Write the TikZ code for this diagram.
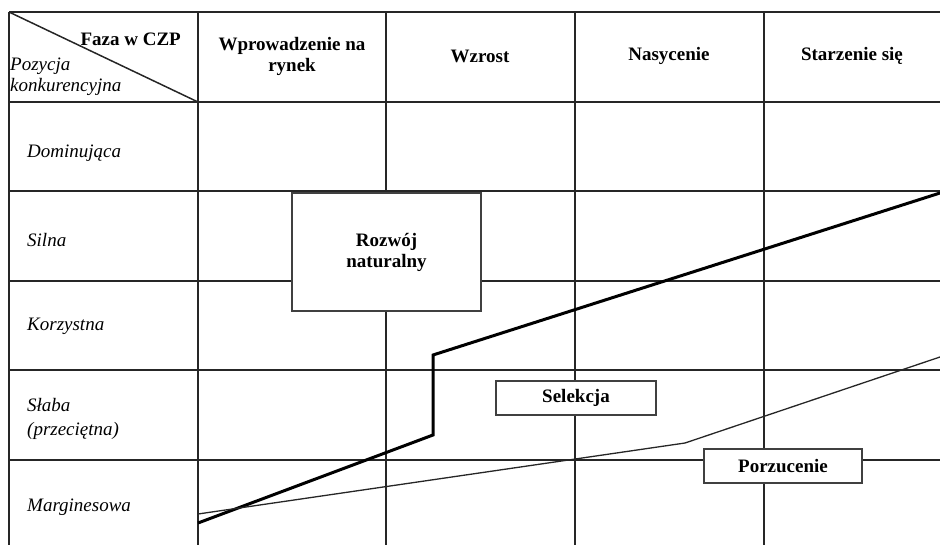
\documentclass[tikz,border=0pt]{standalone}
\usepackage{fontspec}
\setmainfont{Liberation Serif}
\begin{document}
\begin{tikzpicture}[x=1pt,y=-1pt,
  gridline/.style={line width=1.5pt, draw=black!85},
  colhead/.style={font=\fontsize{19}{21}\selectfont\bfseries, align=center, inner sep=0pt},
  rowhead/.style={font=\fontsize{19}{24}\selectfont\itshape, anchor=west, align=left, inner sep=0pt},
  cornerhead/.style={font=\fontsize{19}{21}\selectfont\itshape, anchor=west, align=left, inner sep=0pt},
  strategy/.style={draw=black!75, line width=1.2pt, fill=white, inner sep=0pt,
    font=\fontsize{19}{21}\selectfont\bfseries, align=center},
  leader/.style={line width=3pt, line join=miter, draw=black},
  follower/.style={line width=1.3pt, draw=black!85}]
\useasboundingbox (0,0) rectangle (940,544);

% table grid, running off the right and bottom edges
\begin{scope}
  \clip (0,0) rectangle (940,544);
  \foreach \y in {12,102,191,281,370,460}
    \draw[gridline] (9,\y) -- (960,\y);
  \foreach \x in {9,198,386,575,764}
    \draw[gridline] (\x,12) -- (\x,560);
\end{scope}

% corner cell with the diagonal
\coordinate (cornerTL) at (9,12);
\coordinate (cornerBR) at (198,102);
\draw[gridline] (cornerTL) -- (cornerBR);
\node[colhead, anchor=base east] (phase) at (181,45) {Faza w CZP};
\node[cornerhead] (position) at (10,77) {Pozycja\\konkurencyjna};

% life-cycle phases
\node[colhead] (intro) at (292,56) {Wprowadzenie na\\rynek};
\node[colhead] (growth) at (480,56) {Wzrost};
\node[colhead] (mature) at (669,56) {Nasycenie};
\node[colhead] (decline) at (852,56) {Starzenie się};

% competitive positions
\node[rowhead] (dominant) at (27,153) {Dominująca};
\node[rowhead] (strong) at (27,240) {Silna};
\node[rowhead] (favour) at (27,326) {Korzystna};
\node[rowhead] (weak) at (27,419) {Słaba\\(przeciętna)};
\node[rowhead] (marginal) at (27,507) {Marginesowa};

% boundary lines between strategy zones
\coordinate (l0) at (198,523);
\coordinate (l1) at (433,435);
\coordinate (l2) at (433,355);
\coordinate (l3) at (940,193);
\draw[leader] (l0) -- (l1) -- (l2) -- (l3);

\coordinate (f0) at (198,514);
\coordinate (f1) at (685,443);
\coordinate (f2) at (940,357);
\draw[follower] (f0) -- (f1) -- (f2);

% strategy labels
\node[strategy, minimum width=189pt, minimum height=118pt] (natural) at (386.5,252) {Rozwój\\naturalny};
\node[strategy, minimum width=160pt, minimum height=34pt] (selection) at (576,398) {Selekcja};
\node[strategy, minimum width=158pt, minimum height=34pt] (abandon) at (783,466) {Porzucenie};
\end{tikzpicture}
\end{document}
